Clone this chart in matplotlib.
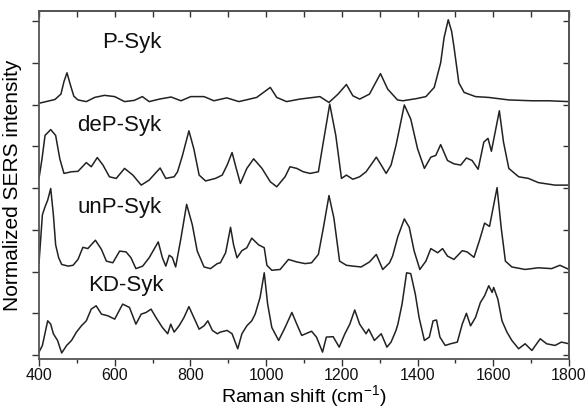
"""
Stacked SERS spectra of Syk forms (P-, deP-, unP-, KD-Syk).

Values were read off the reference figure; each trace is already
offset to its own baseline (6, 4, 2, 0 in tick units).
"""

import matplotlib as mpl
mpl.use('Agg')
import matplotlib.pyplot as plt
from matplotlib.ticker import MultipleLocator

# --- data -----------------------------------------------------------------
p_syk_x = [400, 442, 458, 466, 474, 482, 492, 503, 525, 547, 573, 600, 626,
           652, 673, 691, 718, 749, 775, 801, 836, 862, 896, 928, 975, 1011,
           1028, 1054, 1089, 1142, 1166, 1190, 1212, 1229, 1247, 1273, 1302,
           1321, 1347, 1361, 1396, 1422, 1444, 1461, 1470, 1481, 1490, 1496,
           1509, 1523, 1553, 1588, 1641, 1702, 1746, 1800]
p_syk_y = [6.03, 6.12, 6.25, 6.55, 6.76, 6.50, 6.20, 6.11, 6.07, 6.17, 6.22,
           6.19, 6.07, 6.10, 6.19, 6.07, 6.13, 6.18, 6.09, 6.19, 6.19, 6.09,
           6.16, 6.07, 6.17, 6.41, 6.17, 6.07, 6.13, 6.19, 6.05, 6.25, 6.48,
           6.21, 6.13, 6.25, 6.74, 6.37, 6.11, 6.09, 6.14, 6.19, 6.41, 7.00,
           7.60, 8.03, 7.75, 7.39, 6.52, 6.29, 6.19, 6.17, 6.11, 6.09, 6.09,
           6.07]

dep_syk_x = [400, 408, 416, 431, 444, 455, 466, 486, 503, 525, 538, 554, 569,
             586, 604, 626, 648, 670, 691, 720, 735, 757, 766, 779, 796, 809,
             823, 840, 866, 884, 897, 910, 921, 932, 949, 967, 989, 1011, 1028,
             1050, 1063, 1081, 1098, 1116, 1138, 1151, 1168, 1184, 1199, 1212,
             1229, 1247, 1264, 1282, 1291, 1304, 1317, 1330, 1343, 1365, 1382,
             1400, 1418, 1435, 1448, 1461, 1479, 1496, 1514, 1529, 1544, 1560,
             1575, 1586, 1595, 1616, 1627, 1641, 1667, 1693, 1719, 1763, 1800]
dep_syk_y = [4.23, 4.70, 5.26, 5.40, 5.26, 4.70, 4.35, 4.39, 4.40, 4.61, 4.51,
             4.73, 4.55, 4.27, 4.23, 4.47, 4.31, 4.07, 4.19, 4.48, 4.23, 4.27,
             4.39, 4.78, 5.37, 4.94, 4.31, 4.17, 4.23, 4.31, 4.55, 4.85, 4.47,
             4.11, 4.47, 4.70, 4.47, 4.15, 4.03, 4.27, 4.51, 4.47, 4.39, 4.35,
             4.39, 5.10, 6.01, 5.26, 4.23, 4.31, 4.21, 4.27, 4.39, 4.62, 4.74,
             4.55, 4.35, 4.55, 5.02, 5.99, 5.65, 4.94, 4.47, 4.74, 4.78, 5.04,
             4.66, 4.58, 4.55, 4.72, 4.66, 4.45, 5.10, 5.19, 4.88, 5.85, 5.10,
             4.47, 4.27, 4.23, 4.13, 4.07, 4.07]

unp_syk_x = [400, 409, 416, 423, 431, 438, 444, 452, 460, 477, 490, 503, 516,
             529, 549, 565, 578, 595, 613, 630, 643, 656, 674, 691, 715, 726,
             735, 744, 752, 761, 775, 790, 805, 818, 836, 853, 871, 879, 893,
             906, 914, 923, 936, 949, 962, 980, 995, 1002, 1015, 1037, 1059,
             1081, 1103, 1120, 1138, 1151, 1166, 1179, 1194, 1212, 1229, 1251,
             1273, 1291, 1308, 1326, 1334, 1348, 1365, 1378, 1391, 1406, 1422,
             1435, 1453, 1466, 1479, 1496, 1518, 1531, 1549, 1564, 1577, 1590,
             1610, 1621, 1632, 1649, 1684, 1719, 1754, 1776, 1800]
unp_syk_y = [2.20, 3.36, 3.55, 3.71, 3.99, 3.36, 2.64, 2.33, 2.17, 2.13, 2.15,
             2.29, 2.58, 2.55, 2.75, 2.53, 2.25, 2.21, 2.49, 2.47, 2.33, 2.07,
             2.13, 2.33, 2.71, 2.33, 2.13, 2.39, 2.34, 2.11, 2.80, 3.61, 3.12,
             2.49, 2.11, 2.07, 2.19, 2.21, 2.45, 3.06, 2.64, 2.33, 2.50, 2.57,
             2.80, 2.64, 2.57, 2.15, 2.03, 2.05, 2.29, 2.23, 2.19, 2.21, 2.41,
             3.04, 3.82, 3.28, 2.25, 2.15, 2.13, 2.11, 2.23, 2.41, 2.05, 2.21,
             2.37, 2.84, 3.26, 3.06, 2.49, 2.05, 2.25, 2.55, 2.45, 2.55, 2.37,
             2.29, 2.50, 2.47, 2.34, 2.76, 3.16, 3.08, 4.01, 3.04, 2.25, 2.11,
             2.05, 2.09, 2.07, 2.15, 2.05]

kd_syk_x = [400, 409, 423, 431, 438, 449, 460, 473, 486, 499, 512, 525, 538,
            551, 565, 582, 600, 621, 639, 656, 670, 683, 696, 709, 726, 740,
            748, 757, 770, 783, 796, 809, 823, 836, 846, 858, 871, 879, 897,
            910, 925, 936, 949, 962, 971, 984, 995, 1004, 1015, 1033, 1050,
            1068, 1081, 1094, 1120, 1133, 1149, 1159, 1177, 1193, 1208, 1221,
            1234, 1247, 1264, 1271, 1286, 1304, 1319, 1330, 1343, 1348, 1359,
            1371, 1382, 1394, 1404, 1418, 1431, 1441, 1450, 1459, 1473, 1487,
            1505, 1518, 1529, 1540, 1553, 1566, 1577, 1588, 1597, 1601, 1612,
            1623, 1636, 1649, 1667, 1684, 1702, 1724, 1741, 1763, 1780, 1800]
kd_syk_y = [0.07, 0.23, 0.82, 0.74, 0.51, 0.35, 0.05, 0.23, 0.35, 0.55, 0.70,
            0.82, 1.10, 1.18, 0.98, 0.94, 0.86, 1.22, 1.14, 0.74, 0.98, 1.02,
            1.10, 0.90, 0.66, 0.51, 0.74, 0.55, 0.70, 0.90, 1.16, 0.90, 0.62,
            0.70, 0.82, 0.59, 0.51, 0.55, 0.59, 0.51, 0.15, 0.51, 0.70, 0.82,
            0.98, 1.38, 1.97, 1.22, 0.66, 0.35, 0.66, 1.02, 0.74, 0.47, 0.57,
            0.43, 0.07, 0.43, 0.44, 0.19, 0.51, 0.74, 1.08, 0.74, 0.51, 0.62,
            0.35, 0.51, 0.19, 0.31, 0.59, 0.74, 1.22, 1.97, 1.95, 1.46, 0.90,
            0.35, 0.43, 0.82, 0.84, 0.43, 0.23, 0.27, 0.31, 0.74, 1.00, 0.70,
            0.90, 1.26, 1.42, 1.66, 1.50, 1.62, 1.34, 0.82, 0.55, 0.35, 0.15,
            0.27, 0.11, 0.39, 0.27, 0.23, 0.31, 0.27]

labels = ['P-Syk', 'deP-Syk', 'unP-Syk', 'KD-Syk']
label_x = [568, 502, 502, 531]
label_y = [7.48, 5.49, 3.54, 1.66]
y_ticks = [0, 1, 2, 3, 4, 5, 6, 7, 8]

# --- figure ---------------------------------------------------------------
plt.rcParams['font.family'] = ['Liberation Sans', 'DejaVu Sans']
plt.rcParams['mathtext.fontset'] = 'custom'
plt.rcParams['mathtext.rm'] = 'Liberation Sans'

fig = plt.figure(figsize=(5.88, 4.09), dpi=100)
# axes box: left 39 px, right 569 px, top 11 px, bottom 359 px
ax = fig.add_axes([0.0663, 0.1222, 0.9014, 0.8509])

line_color = '#222222'
traces = [(p_syk_x, p_syk_y), (dep_syk_x, dep_syk_y),
          (unp_syk_x, unp_syk_y), (kd_syk_x, kd_syk_y)]
for xs, ys in traces:
    ax.plot(xs, ys, color=line_color, linewidth=1.1)

for text, tx, ty in zip(labels, label_x, label_y):
    ax.text(tx, ty, text, fontsize=16, ha='left', va='center',
            color='#111111')

ax.set_xlim(400, 1800)
ax.set_ylim(-0.095, 8.24)

# x ticks: labelled every 200 below, minor every 100; top ticks inward
ax.xaxis.set_major_locator(MultipleLocator(200))
ax.xaxis.set_minor_locator(MultipleLocator(100))
ax.set_yticks(y_ticks)
ax.set_yticklabels([])

ax.tick_params(axis='x', which='major', direction='out', length=5,
               width=1, labelsize=11.5, pad=1.5, colors='#333333',
               labelcolor='#111111')
ax.tick_params(axis='x', which='minor', direction='out', length=3,
               width=1, colors='#333333')
ax.tick_params(axis='y', which='major', direction='out', length=5,
               width=1, colors='#333333')

# mirrored ticks on top / right, pointing inward
ax_top = ax.secondary_xaxis('top')
ax_top.xaxis.set_major_locator(MultipleLocator(100))
ax_top.tick_params(direction='in', length=4, width=1, labeltop=False,
                   colors='#333333')
ax_right = ax.secondary_yaxis('right')
ax_right.set_yticks(y_ticks)
ax_right.tick_params(direction='in', length=4, width=1, labelright=False,
                     colors='#333333')

for spine in list(ax.spines.values()) + [ax_top.spines['top'],
                                          ax_right.spines['right']]:
    spine.set_color('#555555')
    spine.set_linewidth(1.3)

ax.set_xlabel('Raman shift (cm$^{-1}$)', fontsize=14, labelpad=0)
ax.set_ylabel('Normalized SERS intensity', fontsize=15, labelpad=4)

fig.savefig('out.png', dpi=100)
plt.close(fig)
